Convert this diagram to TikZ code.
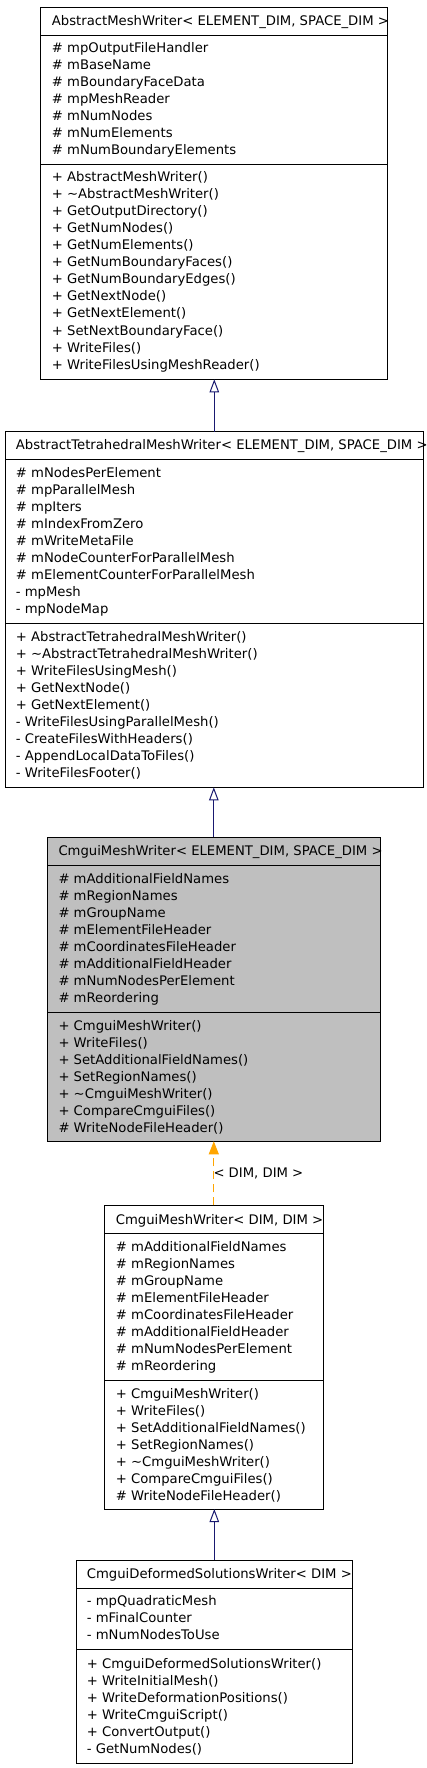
\documentclass[tikz,border=0pt]{standalone}
\usepackage{fontspec}
\setmainfont{DejaVu Sans}
\usepackage{tikz}
\usetikzlibrary{arrows.meta,calc,positioning}

\definecolor{granat}{HTML}{191970}
\definecolor{pomarancz}{HTML}{FFA500}
\definecolor{szary}{HTML}{BFBFBF}

\begin{document}
\begin{tikzpicture}[
    x=1pt,
    y=-1pt,
    font=\fontsize{13.2}{17}\selectfont,
    klasa/.style={draw,line width=1pt,inner sep=0pt,outer sep=0pt},
    pole/.style={anchor=base west,inner sep=0pt},
    dziedzicz/.style={draw=granat,line width=1pt,
        -{Triangle[open,length=13pt,width=9.5pt]}},
    szablon/.style={draw=pomarancz,line width=1pt,dash pattern=on 8pt off 5pt,
        -{Triangle[length=13pt,width=10pt,fill=pomarancz]}}
]

\useasboundingbox
    (0,0)
    rectangle
    (427,1768);

% Klasa AbstractMeshWriter
\node[klasa,minimum width=347pt,minimum height=372pt]
    (amw) at (213.8,193.3) {};
\draw[line width=1pt]
    (amw.west |- 0,35.3) -- (amw.east |- 0,35.3);
\draw[line width=1pt]
    (amw.west |- 0,164.3) -- (amw.east |- 0,164.3);

\node[pole] (amw-t) at (51.7,25.4)
    {AbstractMeshWriter< ELEMENT\_DIM, SPACE\_DIM >};

\node[pole] (amw-a1) at (51.7,52.4) {\# mpOutputFileHandler};
\node[pole] (amw-a2) at (51.7,69.4) {\# mBaseName};
\node[pole] (amw-a3) at (51.7,86.4) {\# mBoundaryFaceData};
\node[pole] (amw-a4) at (51.7,103.4) {\# mpMeshReader};
\node[pole] (amw-a5) at (51.7,120.4) {\# mNumNodes};
\node[pole] (amw-a6) at (51.7,137.4) {\# mNumElements};
\node[pole] (amw-a7) at (51.7,154.4) {\# mNumBoundaryElements};

\node[pole] (amw-m1) at (51.7,182) {+ AbstractMeshWriter()};
\node[pole] (amw-m2) at (51.7,199) {+ \textasciitilde{}AbstractMeshWriter()};
\node[pole] (amw-m3) at (51.7,216) {+ GetOutputDirectory()};
\node[pole] (amw-m4) at (51.7,233) {+ GetNumNodes()};
\node[pole] (amw-m5) at (51.7,250) {+ GetNumElements()};
\node[pole] (amw-m6) at (51.7,267) {+ GetNumBoundaryFaces()};
\node[pole] (amw-m7) at (51.7,284) {+ GetNumBoundaryEdges()};
\node[pole] (amw-m8) at (51.7,301) {+ GetNextNode()};
\node[pole] (amw-m9) at (51.7,318) {+ GetNextElement()};
\node[pole] (amw-m10) at (51.7,335) {+ SetNextBoundaryFace()};
\node[pole] (amw-m11) at (51.7,352) {+ WriteFiles()};
\node[pole] (amw-m12) at (51.7,369) {+ WriteFilesUsingMeshReader()};

% Klasa AbstractTetrahedralMeshWriter
\node[klasa,minimum width=418pt,minimum height=355.6pt]
    (atmw) at (214.3,609.5) {};
\draw[line width=1pt]
    (atmw.west |- 0,459.3) -- (atmw.east |- 0,459.3);
\draw[line width=1pt]
    (atmw.west |- 0,623) -- (atmw.east |- 0,623);

\node[pole] (atmw-t) at (15.7,449)
    {AbstractTetrahedralMeshWriter< ELEMENT\_DIM, SPACE\_DIM >};

\node[pole] (atmw-a1) at (15.7,477) {\# mNodesPerElement};
\node[pole] (atmw-a2) at (15.7,494) {\# mpParallelMesh};
\node[pole] (atmw-a3) at (15.7,511) {\# mpIters};
\node[pole] (atmw-a4) at (15.7,528) {\# mIndexFromZero};
\node[pole] (atmw-a5) at (15.7,545) {\# mWriteMetaFile};
\node[pole] (atmw-a6) at (15.7,562) {\# mNodeCounterForParallelMesh};
\node[pole] (atmw-a7) at (15.7,579) {\# mElementCounterForParallelMesh};
\node[pole] (atmw-a8) at (15.7,596) {- mpMesh};
\node[pole] (atmw-a9) at (15.7,613) {- mpNodeMap};

\node[pole] (atmw-m1) at (15.7,641) {+ AbstractTetrahedralMeshWriter()};
\node[pole] (atmw-m2) at (15.7,658) {+ \textasciitilde{}AbstractTetrahedralMeshWriter()};
\node[pole] (atmw-m3) at (15.7,675) {+ WriteFilesUsingMesh()};
\node[pole] (atmw-m4) at (15.7,692) {+ GetNextNode()};
\node[pole] (atmw-m5) at (15.7,709) {+ GetNextElement()};
\node[pole] (atmw-m6) at (15.7,726) {- WriteFilesUsingParallelMesh()};
\node[pole] (atmw-m7) at (15.7,743) {- CreateFilesWithHeaders()};
\node[pole] (atmw-m8) at (15.7,760) {- AppendLocalDataToFiles()};
\node[pole] (atmw-m9) at (15.7,777) {- WriteFilesFooter()};

% Klasa CmguiMeshWriter (szara)
\node[klasa,fill=szary,minimum width=333pt,minimum height=304pt]
    (cmw) at (213.8,989.3) {};
\draw[line width=1pt]
    (cmw.west |- 0,865.3) -- (cmw.east |- 0,865.3);
\draw[line width=1pt]
    (cmw.west |- 0,1012.7) -- (cmw.east |- 0,1012.7);

\node[pole] (cmw-t) at (58.3,855.4)
    {CmguiMeshWriter< ELEMENT\_DIM, SPACE\_DIM >};

\node[pole] (cmw-a1) at (58.3,883) {\# mAdditionalFieldNames};
\node[pole] (cmw-a2) at (58.3,900) {\# mRegionNames};
\node[pole] (cmw-a3) at (58.3,917) {\# mGroupName};
\node[pole] (cmw-a4) at (58.3,934) {\# mElementFileHeader};
\node[pole] (cmw-a5) at (58.3,951) {\# mCoordinatesFileHeader};
\node[pole] (cmw-a6) at (58.3,968) {\# mAdditionalFieldHeader};
\node[pole] (cmw-a7) at (58.3,985) {\# mNumNodesPerElement};
\node[pole] (cmw-a8) at (58.3,1002) {\# mReordering};

\node[pole] (cmw-m1) at (58.3,1030) {+ CmguiMeshWriter()};
\node[pole] (cmw-m2) at (58.3,1047) {+ WriteFiles()};
\node[pole] (cmw-m3) at (58.3,1064) {+ SetAdditionalFieldNames()};
\node[pole] (cmw-m4) at (58.3,1081) {+ SetRegionNames()};
\node[pole] (cmw-m5) at (58.3,1098) {+ \textasciitilde{}CmguiMeshWriter()};
\node[pole] (cmw-m6) at (58.3,1115) {+ CompareCmguiFiles()};
\node[pole] (cmw-m7) at (58.3,1132) {\# WriteNodeFileHeader()};

% Klasa CmguiMeshWriter< DIM, DIM >
\node[klasa,minimum width=219pt,minimum height=303.7pt]
    (cmwdd) at (213.8,1357.15) {};
\draw[line width=1pt]
    (cmwdd.west |- 0,1233.3) -- (cmwdd.east |- 0,1233.3);
\draw[line width=1pt]
    (cmwdd.west |- 0,1380.3) -- (cmwdd.east |- 0,1380.3);

\node[pole] (cmwdd-t) at (115.7,1224)
    {CmguiMeshWriter< DIM, DIM >};

\node[pole] (cmwdd-a1) at (115.7,1251) {\# mAdditionalFieldNames};
\node[pole] (cmwdd-a2) at (115.7,1268) {\# mRegionNames};
\node[pole] (cmwdd-a3) at (115.7,1285) {\# mGroupName};
\node[pole] (cmwdd-a4) at (115.7,1302) {\# mElementFileHeader};
\node[pole] (cmwdd-a5) at (115.7,1319) {\# mCoordinatesFileHeader};
\node[pole] (cmwdd-a6) at (115.7,1336) {\# mAdditionalFieldHeader};
\node[pole] (cmwdd-a7) at (115.7,1353) {\# mNumNodesPerElement};
\node[pole] (cmwdd-a8) at (115.7,1370) {\# mReordering};

\node[pole] (cmwdd-m1) at (115.7,1398) {+ CmguiMeshWriter()};
\node[pole] (cmwdd-m2) at (115.7,1415) {+ WriteFiles()};
\node[pole] (cmwdd-m3) at (115.7,1432) {+ SetAdditionalFieldNames()};
\node[pole] (cmwdd-m4) at (115.7,1449) {+ SetRegionNames()};
\node[pole] (cmwdd-m5) at (115.7,1466) {+ \textasciitilde{}CmguiMeshWriter()};
\node[pole] (cmwdd-m6) at (115.7,1483) {+ CompareCmguiFiles()};
\node[pole] (cmwdd-m7) at (115.7,1500) {\# WriteNodeFileHeader()};

% Klasa CmguiDeformedSolutionsWriter
\node[klasa,minimum width=276pt,minimum height=203pt]
    (cdsw) at (214.3,1661.5) {};
\draw[line width=1pt]
    (cdsw.west |- 0,1588.3) -- (cdsw.east |- 0,1588.3);
\draw[line width=1pt]
    (cdsw.west |- 0,1649.3) -- (cdsw.east |- 0,1649.3);

\node[pole] (cdsw-t) at (86.7,1578)
    {CmguiDeformedSolutionsWriter< DIM >};

\node[pole] (cdsw-a1) at (86.7,1605) {- mpQuadraticMesh};
\node[pole] (cdsw-a2) at (86.7,1622) {- mFinalCounter};
\node[pole] (cdsw-a3) at (86.7,1639) {- mNumNodesToUse};

\node[pole] (cdsw-m1) at (86.7,1668) {+ CmguiDeformedSolutionsWriter()};
\node[pole] (cdsw-m2) at (86.7,1685) {+ WriteInitialMesh()};
\node[pole] (cdsw-m3) at (86.7,1702) {+ WriteDeformationPositions()};
\node[pole] (cdsw-m4) at (86.7,1719) {+ WriteCmguiScript()};
\node[pole] (cdsw-m5) at (86.7,1736) {+ ConvertOutput()};
\node[pole] (cdsw-m6) at (86.7,1753) {- GetNumNodes()};

% Dziedziczenie
\draw[dziedzicz]
    (atmw.north) -- (atmw.north |- amw.south);

\draw[dziedzicz]
    (cmw.north) -- (cmw.north |- atmw.south);

\draw[dziedzicz]
    (cdsw.north) -- (cdsw.north |- cmwdd.south);

% Konkretyzacja szablonu
\draw[szablon]
    (cmwdd.north) -- (cmwdd.north |- cmw.south);

\node[pole] (etykieta) at (213.3,1177)
    {< DIM, DIM >};

\end{tikzpicture}
\end{document}
